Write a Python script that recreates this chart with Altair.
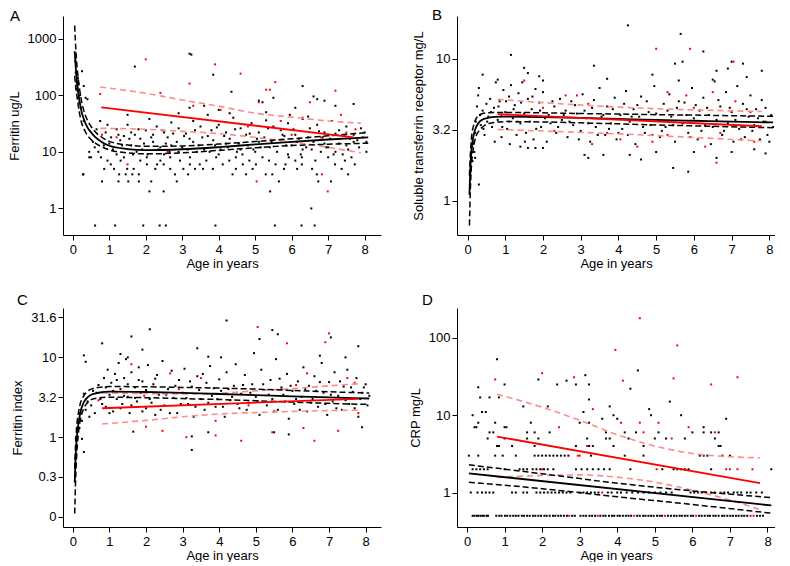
import altair as alt
import pandas as pd

AGE_TICKS = [0, 1, 2, 3, 4, 5, 6, 7, 8]

# ---------------- Panel A: Ferritin ----------------
A_black = [
    (0.61, 0.5), (1.16, 0.5), (1.93, 0.5), (2.38, 0.5), (2.55, 0.5), (3.91, 0.5), (5.54, 0.5), (6.27, 0.5), (6.63, 0.5), (6.54, 1),
    (2.1, 2), (2.49, 2), (5.41, 2),
    (0.8, 3), (1.25, 3), (1.52, 3), (1.81, 3), (2.15, 3), (2.85, 3), (5.65, 3), (6.73, 3), (7.08, 3),
    (0.29, 4), (1.27, 4), (1.45, 4), (1.63, 4), (1.81, 4), (2.8, 4), (3.16, 4), (4.38, 4), (4.75, 4), (5.29, 4), (5.47, 4), (6.69, 4), (7.55, 4),
    (0.86, 5), (1.13, 5), (1.49, 5), (1.67, 5), (2.26, 5), (2.67, 5), (3.03, 5), (3.35, 5), (3.57, 5), (3.84, 5), (4.47, 5), (4.93, 5), (5.79, 5), (6.15, 5), (6.56, 5), (7.37, 5),
    (1.04, 6), (2.03, 6), (2.31, 6), (2.49, 6), (3.21, 6), (3.48, 6), (4.11, 6), (4.66, 6), (5.02, 6), (5.56, 6), (5.83, 6), (6.28, 6), (7.19, 6), (7.73, 6),
    (0.95, 7), (1.31, 7), (1.85, 7), (2.4, 7), (2.94, 7), (3.66, 7), (4.29, 7), (4.84, 7), (5.38, 7), (6.1, 7), (6.65, 7), (7.46, 7),
    (0.45, 8), (0.77, 8), (1.4, 8), (2.03, 8), (2.67, 8), (3.21, 8), (3.93, 8), (4.47, 8), (5.2, 8), (5.92, 8), (6.28, 8), (7.0, 8), (7.64, 8),
    (0.6, 12), (1.0, 14), (1.3, 16), (1.6, 13), (1.9, 11), (2.2, 15), (2.4, 12), (2.7, 13), (3.0, 12), (3.3, 15), (3.6, 11), (3.9, 13),
    (4.2, 14), (4.5, 10), (4.8, 13), (5.1, 15), (5.4, 12), (5.7, 16), (6.0, 13), (6.3, 11), (6.6, 15), (6.9, 14), (7.2, 10), (7.5, 13),
    (7.8, 16), (8.05, 15), (1.2, 9), (2.5, 9), (3.4, 10), (4.0, 9), (5.0, 10), (5.9, 9), (6.8, 10), (7.4, 9), (0.7, 10), (1.75, 10),
    (2.9, 10), (4.6, 11), (6.4, 12), (7.0, 12),
    (0.75, 35), (0.9, 22), (1.2, 25), (1.5, 30), (1.7, 20), (2.0, 24), (2.1, 38), (2.3, 28), (2.5, 22), (2.7, 33), (2.9, 26), (3.1, 21),
    (3.3, 35), (3.5, 28), (3.8, 24), (4.0, 30), (4.2, 22), (4.4, 40), (4.6, 26), (4.9, 32), (5.1, 22), (5.3, 36), (5.5, 28), (5.7, 24),
    (5.9, 32), (6.1, 20), (6.3, 38), (6.5, 26), (6.7, 30), (6.9, 22), (7.1, 35), (7.3, 24), (7.5, 28), (7.7, 20), (7.9, 26), (8.0, 22),
    (1.05, 18), (1.4, 19), (1.85, 17), (2.6, 18), (3.2, 17), (3.7, 19), (4.3, 17), (4.75, 20), (5.25, 18), (5.8, 19), (6.2, 17), (6.85, 18),
    (7.2, 21), (7.6, 17), (2.2, 20), (1.6, 22),
    (0.55, 15), (0.65, 25), (0.85, 13), (0.95, 30), (1.1, 11), (1.25, 20), (1.35, 13), (1.55, 17), (1.65, 9), (1.8, 25), (1.95, 14),
    (2.05, 9), (2.15, 18), (2.35, 11), (2.45, 24), (2.55, 14), (2.65, 10), (2.75, 21), (2.85, 15), (3.05, 19), (3.15, 11), (3.35, 24),
    (3.45, 13), (3.55, 18), (3.75, 10), (3.85, 16), (3.95, 27), (4.05, 11), (4.15, 19), (4.25, 12), (4.45, 25), (4.55, 14), (4.65, 9),
    (4.85, 21), (4.95, 11), (5.05, 17), (5.15, 12), (5.35, 26), (5.45, 15), (5.6, 10), (5.75, 20), (5.85, 13), (6.05, 25), (6.15, 15),
    (6.25, 9), (6.45, 18), (6.55, 11), (6.75, 23), (6.95, 12), (7.05, 17), (7.15, 9), (7.3, 14), (7.45, 20), (7.55, 11), (7.7, 15),
    (7.85, 12), (7.95, 18), (8.05, 10),
    (1.5, 45), (2.9, 48), (3.2, 60), (3.6, 65), (3.7, 45), (4.0, 55), (4.3, 48), (5.1, 80), (5.2, 75), (5.3, 50), (5.5, 90), (6.1, 60),
    (6.6, 95), (6.7, 85), (6.9, 80), (7.2, 65), (7.7, 70), (5.95, 45), (6.45, 42),
    (1.7, 320), (3.2, 540), (3.25, 520), (3.85, 230), (4.35, 115), (6.3, 145),
    (0.07, 400), (0.08, 250), (0.1, 170), (0.12, 150), (0.13, 120), (0.15, 90), (0.16, 160), (0.18, 75), (0.2, 100), (0.22, 60),
    (0.25, 265), (0.3, 145), (0.35, 90), (0.4, 85), (0.28, 4), (0.3, 35), (0.45, 10), (0.5, 8), (0.1, 130), (0.14, 200),
]
A_redpts = [
    (0.75, 105), (0.8, 20), (1.2, 18), (2.0, 430), (2.4, 110), (3.2, 160), (3.3, 65), (3.9, 350), (4.05, 55), (4.6, 240),
    (5.3, 125), (5.4, 125), (5.55, 170), (5.1, 75), (5.7, 35), (6.0, 20), (6.3, 40), (6.5, 75), (6.8, 18), (7.2, 120),
    (7.35, 45), (7.5, 22), (7.75, 25), (2.6, 10), (4.8, 28), (1.5, 6), (5.04, 3), (6.99, 2), (6.83, 4),
]
A_fit_x = [0.05, 0.07, 0.1, 0.15, 0.2, 0.25, 0.3, 0.4, 0.5, 0.6, 0.8, 1.0, 1.5, 2, 3, 4, 5, 6, 7, 8.1]
A_fit = [600, 380, 210, 110, 68, 48, 38, 27, 22, 18.5, 14.8, 12.8, 11.2, 10.7, 11.1, 12.1, 13.5, 15.0, 16.5, 18]
A_fit_hi = [1700, 900, 420, 190, 110, 72, 54, 36, 28, 23, 18, 15.3, 13.2, 12.5, 12.7, 13.7, 15.2, 17.0, 19.2, 22]
A_fit_lo = [220, 160, 110, 65, 42, 31, 26, 19.5, 16.5, 14.5, 12.2, 10.8, 9.6, 9.2, 9.6, 10.6, 11.8, 12.9, 13.6, 14.2]
A_red_x = [0.78, 7.7]
A_red = [61, 18]
A_redb_x = [0.75, 2, 3, 4, 5, 6, 7, 7.9]
A_red_hi = [139, 108, 82, 64, 48, 41, 35, 32]
A_red_lo = [26, 25, 23, 21, 18, 15, 12, 9.6]

# ---------------- Panel B: Soluble transferrin receptor ----------------
B_black = [
    (0.15, 2.5), (0.18, 2.2), (0.2, 3.0), (0.25, 4.6), (0.28, 5.5), (0.3, 6.2), (0.35, 3.4), (0.4, 4.3), (0.45, 2.9), (0.5, 4.8),
    (0.55, 3.9), (0.6, 5.2), (0.65, 3.3), (0.7, 4.5), (0.75, 6.8), (0.8, 3.7), (0.85, 5.0), (0.9, 2.8), (0.95, 6.0), (1.0, 4.2),
    (1.05, 3.2), (1.1, 5.4), (1.15, 6.5), (1.2, 3.8), (1.25, 4.7), (1.3, 2.9), (1.35, 5.7), (1.4, 3.5), (1.45, 6.8), (1.5, 4.1),
    (1.55, 3.0), (1.6, 5.2), (1.65, 3.6), (1.7, 4.4), (1.75, 2.7), (1.8, 6.1), (1.85, 3.9), (1.9, 4.9), (1.95, 3.3), (2.0, 5.8),
    (2.1, 2.6), (2.15, 4.0), (2.2, 3.5), (2.3, 4.6), (2.35, 3.0), (2.45, 5.2), (2.5, 3.7), (2.6, 4.3), (2.65, 2.8), (2.75, 5.0),
    (2.8, 3.4), (2.9, 4.1), (3.0, 3.1), (3.05, 5.6), (3.15, 3.8), (3.25, 2.6), (3.3, 4.5), (3.4, 3.3), (3.5, 6.2), (3.55, 3.9),
    (3.65, 2.9), (3.7, 4.6), (3.8, 3.5), (3.9, 5.3), (3.95, 2.7), (4.05, 4.0), (4.1, 3.2), (4.2, 5.9), (4.3, 3.6), (4.4, 4.4),
    (4.45, 2.5), (4.55, 3.9), (4.6, 5.4), (4.7, 3.0), (4.8, 4.2), (4.85, 3.4), (4.95, 6.4), (5.05, 3.7), (5.1, 2.8), (5.2, 4.8),
    (5.25, 3.3), (5.35, 5.6), (5.4, 3.9), (5.5, 2.6), (5.55, 4.5), (5.6, 7.0), (5.7, 3.5), (5.75, 4.9), (5.85, 3.0), (5.95, 6.2),
    (6.0, 3.8), (6.1, 2.7), (6.15, 4.3), (6.25, 5.3), (6.3, 3.4), (6.4, 4.0), (6.45, 2.5), (6.55, 6.9), (6.6, 3.7), (6.7, 4.6),
    (6.75, 2.9), (6.85, 5.8), (6.9, 3.5), (7.0, 4.2), (7.05, 2.6), (7.15, 6.4), (7.2, 3.2), (7.3, 4.8), (7.35, 2.8), (7.45, 3.9),
    (7.5, 5.5), (7.6, 3.4), (7.65, 4.4), (7.75, 2.7), (7.8, 5.1), (7.85, 3.6), (7.95, 2.9), (8.05, 4.0), (8.1, 3.3),
    (0.22, 3.6), (0.33, 4.0), (0.42, 3.2), (0.52, 3.6), (0.62, 4.2), (0.72, 2.6), (0.82, 4.6), (0.92, 3.3), (1.02, 5.0), (1.12, 2.5),
    (1.22, 4.4), (1.32, 3.6), (1.42, 4.9), (1.52, 2.6), (1.62, 3.9), (1.72, 5.4), (1.82, 3.2), (1.92, 4.3), (2.05, 3.8), (2.25, 5.0),
    (2.4, 3.3), (2.55, 4.0), (2.7, 3.6), (2.85, 4.7), (2.95, 2.7), (3.1, 4.3), (3.2, 3.5), (3.35, 5.1), (3.45, 2.9), (3.6, 4.0),
    (3.75, 3.2), (3.85, 4.4), (4.0, 3.0), (4.15, 4.8), (4.25, 2.9), (4.35, 3.9), (4.5, 4.7), (4.65, 3.3), (4.75, 5.0), (4.9, 2.9),
    (5.0, 4.1), (5.15, 3.1), (5.3, 4.3), (5.45, 3.4), (5.6, 5.0), (5.8, 4.0), (5.9, 2.8), (6.05, 4.7), (6.2, 3.1), (6.35, 4.5),
    (6.5, 3.3), (6.65, 5.1), (6.8, 3.1), (6.95, 4.5), (7.1, 3.7), (7.25, 2.7), (7.4, 4.4), (7.55, 3.1), (7.7, 3.8), (7.9, 4.5), (8.0, 2.6),
    (4.25, 17.1), (5.65, 14.9), (1.15, 10.6), (6.25, 11.2), (3.35, 8.9), (1.5, 8.6), (7.8, 8.2), (6.6, 8.2), (7.0, 9.5),
    (7.3, 9.2), (4.9, 7.7), (5.5, 9.2), (5.7, 9.5), (6.9, 8.5), (0.4, 7.7), (0.8, 7.1), (1.9, 7.5), (1.6, 7.9), (2.0, 7.0),
    (3.7, 7.2), (6.5, 7.1), (7.4, 7.4),
    (1.4, 2.4), (1.6, 2.35), (1.8, 2.35), (2.0, 2.35), (3.1, 2.1), (3.2, 2.0), (3.6, 2.1), (4.3, 2.1), (4.6, 1.95), (5.0, 2.2),
    (5.45, 1.7), (5.85, 1.6), (6.0, 2.2), (6.6, 2.0), (7.0, 2.2), (7.9, 2.15), (0.3, 1.3), (0.2, 2.0), (7.6, 2.3),
    (0.08, 1.6), (0.1, 2.0), (0.12, 2.4), (0.14, 2.6), (0.13, 1.9),
]
B_redpts = [
    (1.5, 7.0), (2.0, 4.5), (2.6, 5.5), (2.9, 5.5), (3.3, 2.5), (3.7, 3.0), (4.05, 2.7), (4.5, 2.4), (4.9, 2.6), (5.3, 5.8),
    (5.8, 5.5), (6.0, 4.5), (6.5, 5.8), (6.7, 3.0), (7.1, 5.0), (7.5, 4.2), (7.9, 3.6), (0.9, 4.0), (3.2, 4.8), (5.3, 2.9),
    (6.3, 2.4), (7.6, 2.6), (1.1, 3.6), (2.3, 3.1), (5.0, 11.7), (5.9, 11.7), (7.05, 9.5), (6.6, 1.85),
]
B_fit_x = [0.05, 0.07, 0.1, 0.15, 0.2, 0.3, 0.4, 0.5, 0.7, 1, 2, 3, 4, 5, 6, 7, 8.1]
B_fit = [1.1, 1.6, 2.2, 2.8, 3.15, 3.55, 3.72, 3.8, 3.88, 3.9, 3.87, 3.82, 3.76, 3.7, 3.65, 3.6, 3.55]
B_fit_hi = [1.5, 2.0, 2.7, 3.3, 3.65, 4.0, 4.1, 4.15, 4.18, 4.18, 4.15, 4.1, 4.07, 4.03, 4.0, 3.96, 3.92]
B_fit_lo = [0.67, 1.1, 1.7, 2.3, 2.7, 3.1, 3.3, 3.45, 3.55, 3.6, 3.58, 3.53, 3.47, 3.41, 3.36, 3.31, 3.26]
B_red_x = [0.8, 7.8]
B_red = [4.06, 3.34]
B_redb_x = [0.8, 4, 7.8]
B_red_hi = [5.16, 4.55, 4.24]
B_red_lo = [3.17, 2.95, 2.63]

# ---------------- Panel C: Ferritin index ----------------
C_black = [
    (0.6, 2.0), (0.7, 4.5), (0.75, 3.0), (0.85, 5.5), (0.9, 2.4), (0.95, 7.0), (1.0, 3.4), (1.05, 4.8), (1.1, 2.1), (1.15, 6.2),
    (1.2, 3.0), (1.25, 8.5), (1.3, 4.0), (1.35, 2.6), (1.4, 5.5), (1.45, 9.5), (1.5, 3.2), (1.55, 2.0), (1.6, 6.5), (1.7, 4.2),
    (1.75, 2.8), (1.8, 7.5), (1.85, 3.6), (1.9, 5.0), (2.0, 2.3), (2.05, 8.0), (2.1, 3.0), (2.2, 4.6), (2.25, 1.9), (2.3, 6.0),
    (2.35, 3.4), (2.45, 9.0), (2.5, 2.5), (2.6, 4.0), (2.7, 6.8), (2.75, 3.1), (2.85, 2.0), (2.9, 5.2), (3.0, 3.6), (3.05, 7.2),
    (3.15, 2.6), (3.25, 4.3), (3.3, 1.8), (3.4, 5.8), (3.5, 3.0), (3.6, 2.2), (3.65, 4.8), (3.75, 7.8), (3.8, 3.3), (3.9, 2.4),
    (4.0, 5.3), (4.05, 3.8), (4.15, 1.8), (4.2, 6.5), (4.3, 2.9), (4.4, 4.4), (4.45, 8.2), (4.55, 2.3), (4.6, 3.5), (4.7, 6.0),
    (4.8, 2.7), (4.9, 4.6), (5.0, 3.2), (5.1, 1.9), (5.15, 7.0), (5.25, 3.9), (5.3, 2.5), (5.4, 5.2), (5.45, 3.0), (5.55, 9.5),
    (5.6, 2.2), (5.7, 4.2), (5.75, 3.4), (5.85, 6.2), (5.9, 1.7), (6.0, 3.8), (6.05, 2.6), (6.15, 5.0), (6.25, 3.2), (6.3, 7.5),
    (6.4, 2.1), (6.45, 4.4), (6.55, 3.0), (6.6, 5.8), (6.7, 2.4), (6.8, 8.5), (6.85, 3.6), (6.95, 1.9), (7.0, 4.9), (7.1, 2.8),
    (7.15, 6.5), (7.25, 3.3), (7.35, 2.2), (7.4, 4.3), (7.5, 7.0), (7.55, 2.6), (7.65, 3.7), (7.75, 5.5), (7.8, 1.8), (7.85, 3.0),
    (7.95, 4.2), (8.05, 2.5), (8.1, 3.3),
    (0.65, 3.6), (0.8, 2.6), (0.9, 4.2), (1.0, 2.0), (1.1, 3.8), (1.2, 5.2), (1.3, 2.3), (1.4, 3.3), (1.5, 4.6), (1.6, 2.5),
    (1.7, 3.1), (1.8, 5.2), (1.9, 2.1), (2.0, 3.9), (2.15, 2.7), (2.25, 5.4), (2.4, 2.2), (2.55, 3.4), (2.65, 2.0), (2.8, 4.4),
    (2.95, 2.6), (3.1, 3.1), (3.2, 5.0), (3.35, 2.4), (3.45, 3.9), (3.55, 6.2), (3.7, 2.7), (3.85, 4.1), (3.95, 3.0), (4.1, 2.4),
    (4.25, 4.0), (4.35, 3.2), (4.5, 2.6), (4.65, 4.5), (4.75, 2.2), (4.85, 3.6), (5.05, 2.8), (5.2, 4.6), (5.35, 3.4), (5.5, 2.1),
    (5.65, 5.4), (5.8, 2.8), (5.95, 4.4), (6.1, 3.0), (6.2, 2.2), (6.35, 4.0), (6.5, 2.7), (6.65, 3.8), (6.75, 4.9), (6.9, 2.6),
    (7.05, 3.4), (7.2, 2.3), (7.3, 5.0), (7.45, 2.9), (7.6, 4.2), (7.7, 2.3), (7.9, 3.6), (8.0, 4.6),
    (4.2, 29), (2.1, 22.5), (5.45, 22), (5.6, 19.5), (7.05, 17.8), (1.6, 18.3), (0.8, 15), (1.9, 12.5), (4.95, 11.3), (5.1, 17),
    (7.8, 13.8), (3.4, 13), (0.3, 10.6), (0.35, 8.8), (1.3, 11), (6.75, 10.5), (7.45, 10), (3.7, 10.2), (4.05, 10), (1.5, 10),
    (3.25, 0.69), (3.25, 1.02), (0.3, 0.65), (0.25, 0.95), (5.5, 1.15), (5.9, 1.08), (1.65, 1.17), (7.9, 1.33), (3.7, 1.15),
    (0.08, 0.95), (0.1, 1.0), (0.12, 1.2), (0.15, 1.5), (0.18, 1.3), (0.2, 2.0), (0.25, 1.6), (0.3, 3.5), (0.35, 2.2),
    (0.4, 2.8), (0.45, 1.8), (0.5, 2.5), (0.55, 3.8),
]
C_redpts = [
    (2.66, 6.3), (1.6, 8.2), (1.95, 3.3), (2.9, 4.0), (3.1, 1.0), (3.9, 1.05), (4.6, 0.9), (5.05, 24), (5.85, 15), (6.1, 4.5),
    (6.3, 1.3), (6.6, 0.9), (6.9, 15.5), (7.0, 20), (7.25, 1.2), (7.5, 5.5), (7.7, 4.8), (5.45, 1.15), (4.8, 2.5), (3.5, 5.5),
    (2.0, 1.35), (2.45, 1.2), (0.7, 2.9), (6.4, 6.3), (5.7, 4.0), (7.8, 2.0), (3.9, 1.6),
]
C_fit_x = [0.05, 0.07, 0.1, 0.15, 0.2, 0.3, 0.4, 0.5, 0.7, 1, 2, 3, 4, 5, 6, 7, 8.1]
C_fit = [0.27, 0.5, 0.9, 1.45, 2.0, 2.75, 3.15, 3.4, 3.6, 3.72, 3.68, 3.58, 3.47, 3.36, 3.25, 3.15, 3.05]
C_fit_hi = [0.4, 0.75, 1.3, 2.0, 2.6, 3.3, 3.75, 4.0, 4.2, 4.3, 4.28, 4.2, 4.12, 4.0, 3.85, 3.7, 3.57]
C_fit_lo = [0.11, 0.25, 0.55, 1.1, 1.6, 2.3, 2.7, 2.95, 3.1, 3.16, 3.12, 3.04, 2.96, 2.86, 2.75, 2.65, 2.57]
C_red_x = [0.8, 7.8]
C_red = [2.3, 3.02]
C_redb_x = [0.8, 2, 3, 4, 5, 6, 7, 7.8]
C_red_hi = [3.58, 3.52, 3.48, 3.55, 3.8, 4.05, 4.4, 4.66]
C_red_lo = [1.46, 1.62, 1.8, 1.95, 2.03, 2.1, 2.15, 2.18]

# ---------------- Panel D: CRP (values recorded on discrete levels) ----------------
D_rows_black = {
    0.5: [0.15, 0.2, 0.26, 0.3, 0.36, 0.41, 0.45, 0.52, 0.56, 0.78, 0.86, 0.92, 1.01, 1.07, 1.15, 1.23, 1.3, 1.37, 1.46, 1.52,
          1.6, 1.67, 1.76, 1.82, 1.9, 1.97, 2.06, 2.12, 2.2, 2.29, 2.35, 2.43, 2.5, 2.58, 2.66, 2.8, 2.87, 3.02, 3.1, 3.17,
          3.26, 3.33, 3.41, 3.55, 3.63, 3.69, 3.78, 3.86, 3.92, 4.01, 4.07, 4.15, 4.23, 4.3, 4.37, 4.53, 4.6, 4.69, 4.75, 4.83,
          4.9, 4.97, 5.06, 5.13, 5.19, 5.35, 5.43, 5.51, 5.58, 5.66, 5.72, 5.8, 5.87, 5.96, 6.02, 6.18, 6.25, 6.33, 6.41, 6.47,
          6.56, 6.62, 6.7, 6.79, 6.85, 6.93, 7.01, 7.08, 7.16, 7.23, 7.31, 7.38, 7.46, 7.72, 7.8, 7.88],
    1: [0.1, 0.28, 0.4, 0.5, 0.6, 0.7, 1.2, 1.3, 1.5, 1.6, 1.85, 1.95, 2.05, 2.15, 2.25, 2.35, 2.45, 2.55, 2.65, 2.75, 3.0,
        3.1, 3.2, 3.3, 3.4, 3.5, 3.75, 3.85, 4.0, 4.1, 4.25, 4.4, 4.55, 4.7, 4.85, 5.0, 5.15, 5.3, 5.45, 5.95, 6.05, 6.15,
        6.25, 6.5, 6.6, 6.85, 6.95, 7.1, 7.2, 7.3, 7.45, 7.55, 7.7, 7.85],
    2: [0.15, 0.25, 0.35, 0.45, 0.55, 1.0, 1.4, 1.5, 1.6, 1.75, 1.85, 1.95, 2.05, 2.15, 2.3, 2.9, 3.05, 3.2, 3.35, 3.5, 3.65,
        3.8, 4.35, 5.2, 5.5, 5.6, 5.7, 5.8, 5.9, 6.5, 8.1],
    3: [0.05, 0.3, 0.75, 0.95, 1.3, 1.8, 1.9, 2.0, 2.1, 2.2, 2.3, 2.4, 2.5, 2.6, 2.7, 3.3, 4.2, 4.7, 6.2, 6.3, 6.4, 6.8, 7.0],
    4: [0.8, 0.85, 1.2, 1.8, 2.9, 3.25, 3.35, 3.9, 4.7, 6.7, 6.75],
    5: [0.55, 1.0, 1.6, 1.9, 3.2, 3.7, 3.8, 4.3, 5.0, 5.3, 5.8, 6.6],
    6: [0.6, 0.7, 1.6, 1.8, 2.2, 3.7, 4.2, 4.5, 5.1, 6.0, 6.3, 6.5, 6.7],
    7: [0.2, 0.25, 1.0, 1.05, 6.3],
    8: [0.3, 0.75, 1.7, 3.0, 3.25],
    9: [3.6, 4.0, 6.9],
    10: [0.15, 3.9, 4.9, 5.7],
    11: [0.4, 0.5, 3.1],
    12: [4.85],
    13: [1.5, 2.15, 3.8],
    15: [5.4],
    16: [3.25],
    17: [0.35, 0.6, 0.85],
    22: [4.35],
    23: [0.3],
    25: [1.0, 2.4, 2.9, 3.25],
    28: [2.65],
    29: [1.9],
    33: [3.15],
    38: [4.55],
    53: [0.8],
}
D_rows_red = {
    0.5: [2.72, 3.48, 4.45, 5.27, 6.1, 7.55, 7.63],
    1: [3.6, 6.35, 6.75],
    2: [2.0, 5.05, 6.9, 7.0, 7.2, 7.6],
    3: [2.95, 3.0],
    4: [3.2],
    5: [5.45],
    6: [4.7, 6.6],
    7: [2.45, 5.9],
    8: [4.1, 4.6, 5.1],
    12: [3.35],
    25: [6.5],
    28: [4.15],
    29: [0.75],
    30: [5.5],
    31: [2.85, 7.2],
    35: [2.0],
    70: [3.95],
    80: [5.6],
    180: [4.6],
}
D_fit_x = [0.05, 8.1]
D_fit = [1.77, 0.68]
D_fitb_x = [0.05, 2, 4, 6, 8.1]
D_fit_hi = [2.28, 1.75, 1.32, 1.05, 0.86]
D_fit_lo = [1.36, 1.12, 0.88, 0.7, 0.54]
D_red_x = [0.8, 7.8]
D_red = [5.3, 1.32]
D_redb_x = [0.8, 2, 3, 4, 5, 6, 7, 7.8]
D_red_hi = [18.7, 12.7, 8.6, 5.6, 4.0, 3.2, 2.9, 2.82]
D_red_lo = [1.58, 1.66, 1.69, 1.58, 1.36, 1.07, 0.8, 0.6]

# ---------------- helpers ----------------
FONT = "Liberation Sans"
W, H = 318, 219
BLACK = "#000000"
RED = "#ff0000"
PINK = "#ff8a8a"


def rows_to_pairs(rows):
    return [(x, y) for y, xs in rows.items() for x in xs]


def panel(letter, letter_pos, ytitle, ydomain, yticks, ylabel_expr, xdomain,
          black_pts, red_pts, fit_x, fit, fitb_x, fit_hi, fit_lo,
          red_x, red, redb_x, red_hi, red_lo):
    xs = alt.Scale(domain=xdomain, nice=False, zero=False)
    ys = alt.Scale(type="log", domain=ydomain, nice=False)
    xax = alt.Axis(values=AGE_TICKS, title="Age in years", format="d")
    yax = alt.Axis(values=yticks, labelExpr=ylabel_expr, title=ytitle)
    X = alt.X("x:Q", scale=xs, axis=xax)
    Y = alt.Y("y:Q", scale=ys, axis=yax)

    def ln(xv, yv, color, width, dash=None):
        df = pd.DataFrame({"x": xv, "y": yv})
        kw = dict(color=color, strokeWidth=width, clip=True, interpolate="monotone")
        if dash:
            kw["strokeDash"] = dash
        return alt.Chart(df).mark_line(**kw).encode(x=X, y=Y)

    def pts(pairs, color):
        df = pd.DataFrame(pairs, columns=["x", "y"])
        return alt.Chart(df).mark_square(size=4, color=color, opacity=1, clip=True).encode(x=X, y=Y)

    lab = alt.Chart(pd.DataFrame({"t": [letter]})).mark_text(
        font=FONT, fontSize=15, align="left", baseline="top", color=BLACK
    ).encode(text="t:N", x=alt.value(letter_pos[0]), y=alt.value(letter_pos[1]))

    layers = [
        pts(black_pts, BLACK),
        pts(red_pts, RED),
        ln(redb_x, red_hi, PINK, 1.6, [6, 4]),
        ln(redb_x, red_lo, PINK, 1.6, [6, 4]),
        ln(fitb_x, fit_hi, BLACK, 1.5, [6, 3]),
        ln(fitb_x, fit_lo, BLACK, 1.5, [6, 3]),
        ln(fit_x, fit, BLACK, 1.8),
        ln(red_x, red, RED, 1.8),
        lab,
    ]
    return alt.layer(*layers).properties(width=W, height=H)


pA = panel("A", (-53, -7), "Ferritin ug/L", [0.34, 2500], [1, 10, 100, 1000],
           "format(datum.value, 'd')", [-0.27, 8.45],
           A_black, A_redpts, A_fit_x, A_fit, A_fit_x, A_fit_hi, A_fit_lo,
           A_red_x, A_red, A_redb_x, A_red_hi, A_red_lo)

pB = panel("B", (-25, -8), "Soluble transferrin receptor mg/L", [0.574, 19.9], [1, 3.1623, 10],
           "datum.value < 2 ? '1' : datum.value < 5 ? '3.2' : '10'", [-0.28, 8.15],
           B_black, B_redpts, B_fit_x, B_fit, B_fit_x, B_fit_hi, B_fit_lo,
           B_red_x, B_red, B_redb_x, B_red_hi, B_red_lo)

pC = panel("C", (-46, -15), "Ferritin index", [0.0746, 41.6],
           [0.1, 0.31623, 1, 3.1623, 10, 31.623],
           "datum.value < 0.2 ? '0' : datum.value < 0.5 ? '0.3' : datum.value < 2 ? '1' : datum.value < 5 ? '3.2' : datum.value < 20 ? '10' : '31.6'",
           [-0.27, 8.42],
           C_black, C_redpts, C_fit_x, C_fit, C_fit_x, C_fit_hi, C_fit_lo,
           C_red_x, C_red, C_redb_x, C_red_hi, C_red_lo)

pD = panel("D", (-35, -15), "CRP mg/L", [0.358, 244], [1, 10, 100],
           "format(datum.value, 'd')", [-0.266, 8.2],
           rows_to_pairs(D_rows_black), rows_to_pairs(D_rows_red),
           D_fit_x, D_fit, D_fitb_x, D_fit_hi, D_fit_lo,
           D_red_x, D_red, D_redb_x, D_red_hi, D_red_lo)

chart = alt.concat(pA, pB, pC, pD, columns=2, spacing={"row": 73, "column": 76}).properties(
    bounds="flush", padding=0
).configure_view(stroke=None).configure_axis(
    grid=False,
    domainColor=BLACK,
    domainWidth=1,
    tickColor=BLACK,
    tickSize=5,
    tickWidth=1,
    labelColor=BLACK,
    titleColor=BLACK,
    labelFont=FONT,
    titleFont=FONT,
    labelFontSize=13,
    titleFontSize=13,
    titleFontWeight="normal",
    labelPadding=2,
).configure_axisY(titlePadding=6).configure_axisX(titlePadding=1, labelPadding=3)

chart.save("out.html", embed_options={"renderer": "svg", "actions": False})
